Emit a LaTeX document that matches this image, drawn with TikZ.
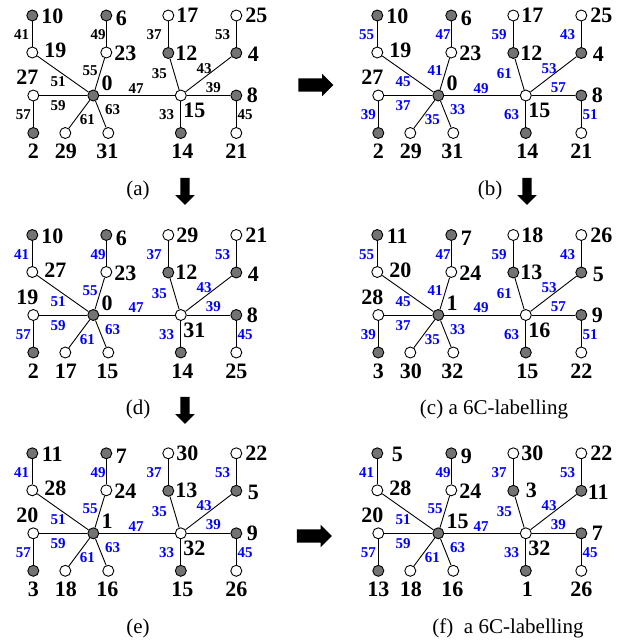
\documentclass[tikz,border=0pt]{standalone}
\usepackage{fontspec}
\setmainfont{Liberation Serif}
\usetikzlibrary{shapes.arrows}

\tikzset{
  vtx/.style={circle, draw, line width=0.9pt, minimum size=11pt, inner sep=0pt},
  fullv/.style={vtx, fill=black!55},
  openv/.style={vtx, fill=white},
  link/.style={line width=0.9pt},
  num/.style={font=\fontsize{22}{22}\selectfont\bfseries, inner sep=0pt},
  wt/.style={font=\fontsize{15}{15}\selectfont\bfseries, inner sep=0pt},
  subcap/.style={font=\fontsize{21}{21}\selectfont, inner sep=0pt},
  rarrow/.style={single arrow, fill=black, inner sep=6.5pt, single arrow head extend=4.5pt, minimum height=35pt},
  darrow/.style={single arrow, fill=black, inner sep=4.5pt, single arrow head extend=5pt, minimum height=27pt, shape border rotate=270},
}

% #1 name, #2 centre, #3 vertex numbers, #4 edge weights, #5 weight colour
\newcommand{\drawtree}[5]{
  \begin{scope}[shift={#2}]
    % vertices
    \foreach \s/\x/\y in {c/0/0, a1/-61/80, b2/-60/-37.5, d1/13/80, j2/75/42.5, l2/143/42.5, n1/143/0, p/87.5/-37.5}
      \node[fullv] (#1\s) at (\x,\y) {};
    \foreach \s/\x/\y in {a2/-61/43, b1/-60/0, d2/13/43, g/-28/-37.5, h/15/-37.5, r/87.5/0, j1/75/80, l1/143/80, n2/143/-37.5}
      \node[openv] (#1\s) at (\x,\y) {};
    % edges
    \foreach \u/\v in {a1/a2, d1/d2, j1/j2, l1/l2, c/d2, c/a2, c/b1, b1/b2, c/g, c/h, c/r, r/j2, r/l2, r/n1, r/p, n1/n2}
      \draw[link] (#1\u) -- (#1\v);
    % vertex numbers
    \foreach \s/\x/\y/\a [count=\i from 0] in {c/8/12/west, a1/-41/79/center, a2/-38/45/center, b1/-66/18/center,
        b2/-60/-56/center, d1/28/77/center, d2/32/42/center, g/-27.5/-56/center, h/14/-56/center, r/101/-15/center,
        j1/94/80/center, j2/93/42.5/center, l1/163/80/center, l2/160/41/center, n1/159/0/center, n2/143/-56/center,
        p/89/-56/center}{
      \pgfmathtruncatemacro{\t}{{#3}[\i]}
      \node[num, anchor=\a] (#1\s-n) at (\x,\y) {\t};
    }
    % edge weights
    \foreach \x/\y [count=\i from 0] in {-71.6/60.5, 4.7/60.5, 60.7/60.5, 129.4/60.5, -3.3/24.8, -35.3/13.8, -35.3/-10.5,
        -70/-19.5, -6/-24.5, 19.4/-14.5, 42.7/7.2, 66/21.5, 110.7/27.2, 120/8.2, 73.4/-19.5, 151.7/-19.5}{
      \pgfmathtruncatemacro{\w}{{#4}[\i]}
      \node[wt, text=#5] (#1w\i) at (\x,\y) {\w};
    }
  \end{scope}
}

\begin{document}
\begin{tikzpicture}[x=1pt, y=1pt]
  \useasboundingbox (0,0) rectangle (625,-643);

  % (a)
  \drawtree{a-}{(93.3,-95.5)}{0,10,19,27,2,6,23,29,31,15,17,12,25,4,8,21,14}{41,49,37,53,55,51,59,57,61,63,47,35,43,39,33,45}{black}
  % (b)
  \drawtree{b-}{(438.3,-95.5)}{0,10,19,27,2,6,23,29,31,15,17,12,25,4,8,21,14}{55,47,59,43,41,45,37,39,35,33,49,61,53,57,63,51}{blue}
  % (d)
  \drawtree{d-}{(93.3,-315)}{0,10,27,19,2,6,23,17,15,31,29,12,21,4,8,25,14}{41,49,37,53,55,51,59,57,61,63,47,35,43,39,33,45}{blue}
  % (c)
  \drawtree{c-}{(438.3,-315)}{1,11,20,28,3,7,24,30,32,16,18,13,26,5,9,22,15}{55,47,59,43,41,45,37,39,35,33,49,61,53,57,63,51}{blue}
  % (e)
  \drawtree{e-}{(93.3,-533.3)}{1,11,28,20,3,7,24,18,16,32,30,13,22,5,9,26,15}{41,49,37,53,55,51,59,57,61,63,47,35,43,39,33,45}{blue}
  % (f)
  \drawtree{f-}{(438.3,-533.3)}{15,5,28,20,13,9,24,18,16,32,30,3,22,11,7,26,1}{41,49,37,53,55,51,59,57,61,63,47,35,43,39,33,45}{blue}

  % captions and arrows
  \node[subcap] (capa) at (138,-190) {(a)};
  \node[subcap] (capb) at (490,-190) {(b)};
  \node[subcap] (capd) at (138,-409) {(d)};
  \node[subcap] (capc) at (494,-409) {(c) a 6C-labelling};
  \node[subcap] (cape) at (138,-628) {(e)};
  \node[subcap] (capf) at (508,-628) {(f)\enspace a 6C-labelling};
  \node[rarrow] (arrab) at (312.5,-85) {};
  \node[rarrow] (arref) at (311,-536) {};
  \node[darrow] (arrad) at (185,-189) {};
  \node[darrow] (arrbc) at (527,-189) {};
  \node[darrow] (arrde) at (185,-408) {};
\end{tikzpicture}
\end{document}
